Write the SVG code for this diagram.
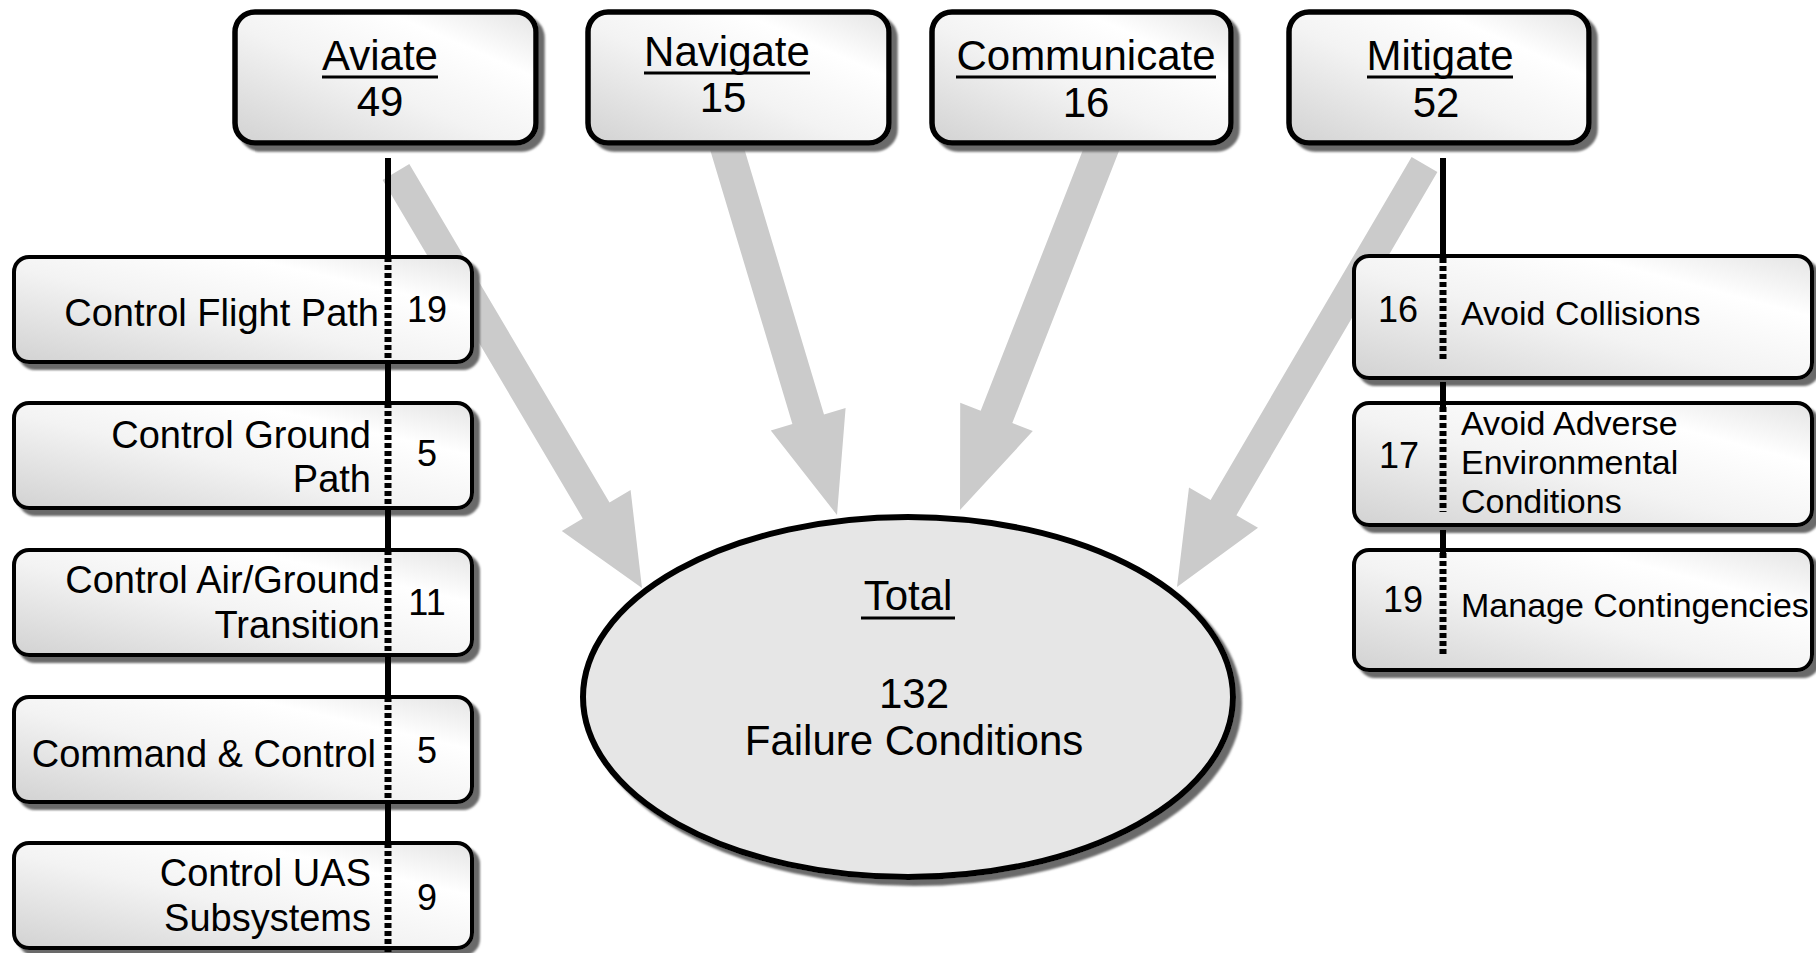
<svg xmlns="http://www.w3.org/2000/svg" width="1816" height="953" viewBox="0 0 1816 953">
<style>
text{font-family:"Liberation Sans",Arial,sans-serif;fill:#000}
.top{font-size:42px;text-anchor:middle}
.lt{font-size:38px;text-anchor:end}
.ln{font-size:36px;text-anchor:middle}
.rt{font-size:34px;text-anchor:start}
.rn{font-size:36px;text-anchor:middle}
.el{font-size:42px;text-anchor:middle}
.tbox{fill:url(#g);stroke:#000;stroke-width:5.5}
.sbox{fill:url(#g);stroke:#000;stroke-width:4}
.ul{stroke:#000;stroke-width:3}
.arrow{fill:#cbcbcb}
.solid{stroke:#000;stroke-width:6;fill:none}
.dot{stroke:#000;stroke-width:7;fill:none;stroke-dasharray:5 3}
</style>
<defs>
<linearGradient id="g" x1="0" y1="1" x2="1" y2="0">
<stop offset="0" stop-color="#d2d2d2"/>
<stop offset="0.45" stop-color="#f3f3f3"/>
<stop offset="0.75" stop-color="#ffffff"/>
<stop offset="1" stop-color="#e4e4e4"/>
</linearGradient>
<filter id="sh" x="-10%" y="-10%" width="130%" height="130%">
<feDropShadow dx="6" dy="6" stdDeviation="1.3" flood-color="#6a6a6a" flood-opacity="1"/>
</filter>
</defs>
<rect width="1816" height="953" fill="#fff"/>

<g id="arrows">
<polygon class="arrow" points="409.3,164.1 609.5,502.6 630.6,490.1 642,588 561.8,530.9 582.8,518.4 382.6,179.9"/>
<polygon class="arrow" points="734.2,115.3 824,414.5 845.6,408 837,515 770.8,430.4 792.4,423.9 702.6,124.7"/>
<polygon class="arrow" points="1128.7,126.2 1012.3,423.1 1032.8,431.1 960,510 960.2,402.7 980.7,410.7 1097.1,113.8"/>
<polygon class="arrow" points="1437.4,172.1 1236.4,515.2 1258,527.8 1177,587 1189,487.4 1210.6,500 1411.6,156.9"/>
</g>

<g id="aviate">
<rect class="tbox" x="235" y="12" width="301" height="131" rx="20" filter="url(#sh)"/>
<text class="top" x="380" y="70">Aviate</text>
<line class="ul" x1="322" y1="77" x2="438" y2="77"/>
<text class="top" x="380" y="116">49</text>
</g>
<g id="navigate">
<rect class="tbox" x="588" y="12" width="301" height="131" rx="20" filter="url(#sh)"/>
<text class="top" x="727" y="66">Navigate</text>
<line class="ul" x1="644" y1="73" x2="810" y2="73"/>
<text class="top" x="723" y="112">15</text>
</g>
<g id="communicate">
<rect class="tbox" x="932" y="12" width="299" height="131" rx="20" filter="url(#sh)"/>
<text class="top" x="1086" y="70">Communicate</text>
<line class="ul" x1="956" y1="77" x2="1216" y2="77"/>
<text class="top" x="1086" y="117">16</text>
</g>
<g id="mitigate">
<rect class="tbox" x="1289" y="12" width="300" height="131" rx="20" filter="url(#sh)"/>
<text class="top" x="1440" y="70">Mitigate</text>
<line class="ul" x1="1367" y1="77" x2="1513" y2="77"/>
<text class="top" x="1436" y="117">52</text>
</g>

<g id="control-flight-path">
<rect class="sbox" x="14" y="257" width="458" height="105" rx="15" filter="url(#sh)"/>
<text class="lt" x="379" y="326">Control Flight Path</text>
<text class="ln" x="427" y="322">19</text>
</g>
<g id="control-ground-path">
<rect class="sbox" x="14" y="403" width="458" height="105" rx="15" filter="url(#sh)"/>
<text class="lt" x="371" y="448">Control Ground</text>
<text class="lt" x="371" y="492">Path</text>
<text class="ln" x="427" y="466">5</text>
</g>
<g id="control-air-ground">
<rect class="sbox" x="14" y="550" width="458" height="105" rx="15" filter="url(#sh)"/>
<text class="lt" x="380" y="593">Control Air/Ground</text>
<text class="lt" x="380" y="638">Transition</text>
<text class="ln" x="427" y="615">11</text>
</g>
<g id="command-control">
<rect class="sbox" x="14" y="697" width="458" height="105" rx="15" filter="url(#sh)"/>
<text class="lt" x="376" y="767">Command &amp; Control</text>
<text class="ln" x="427" y="763">5</text>
</g>
<g id="control-uas">
<rect class="sbox" x="14" y="843" width="458" height="105" rx="15" filter="url(#sh)"/>
<text class="lt" x="371" y="886">Control UAS</text>
<text class="lt" x="371" y="931">Subsystems</text>
<text class="ln" x="427" y="910">9</text>
</g>

<g id="avoid-collisions">
<rect class="sbox" x="1354" y="256" width="458" height="122" rx="15" filter="url(#sh)"/>
<text class="rn" x="1398" y="322">16</text>
<text class="rt" x="1461" y="325">Avoid Collisions</text>
</g>
<g id="avoid-adverse">
<rect class="sbox" x="1354" y="403" width="458" height="122" rx="15" filter="url(#sh)"/>
<text class="rn" x="1399" y="468">17</text>
<text class="rt" x="1461" y="435">Avoid Adverse</text>
<text class="rt" x="1461" y="474">Environmental</text>
<text class="rt" x="1461" y="513">Conditions</text>
</g>
<g id="manage-contingencies">
<rect class="sbox" x="1354" y="550" width="458" height="120" rx="15" filter="url(#sh)"/>
<text class="rn" x="1403" y="612">19</text>
<text class="rt" x="1461" y="617">Manage Contingencies</text>
</g>

<g id="total">
<ellipse cx="908" cy="697" rx="325" ry="180" fill="#e6e6e6" stroke="#000" stroke-width="6" filter="url(#sh)"/>
<text class="el" x="908" y="610">Total</text>
<line class="ul" x1="861" y1="618" x2="955" y2="618"/>
<text class="el" x="914" y="708">132</text>
<text class="el" x="914" y="755">Failure Conditions</text>
</g>

<g id="connectors">
<line class="solid" x1="388" y1="158" x2="388" y2="257"/>
<line class="dot" x1="388" y1="257" x2="388" y2="362"/>
<line class="solid" x1="388" y1="362" x2="388" y2="403"/>
<line class="dot" x1="388" y1="403" x2="388" y2="508"/>
<line class="solid" x1="388" y1="508" x2="388" y2="550"/>
<line class="dot" x1="388" y1="550" x2="388" y2="655"/>
<line class="solid" x1="388" y1="655" x2="388" y2="697"/>
<line class="dot" x1="388" y1="697" x2="388" y2="802"/>
<line class="solid" x1="388" y1="802" x2="388" y2="843"/>
<line class="dot" x1="388" y1="843" x2="388" y2="953"/>
<line class="solid" x1="1443" y1="158" x2="1443" y2="258"/>
<line class="dot" x1="1443" y1="258" x2="1443" y2="362"/>
<line class="solid" x1="1443" y1="382" x2="1443" y2="407"/>
<line class="dot" x1="1443" y1="407" x2="1443" y2="512"/>
<line class="solid" x1="1443" y1="530" x2="1443" y2="553"/>
<line class="dot" x1="1443" y1="553" x2="1443" y2="657"/>
</g>
</svg>
